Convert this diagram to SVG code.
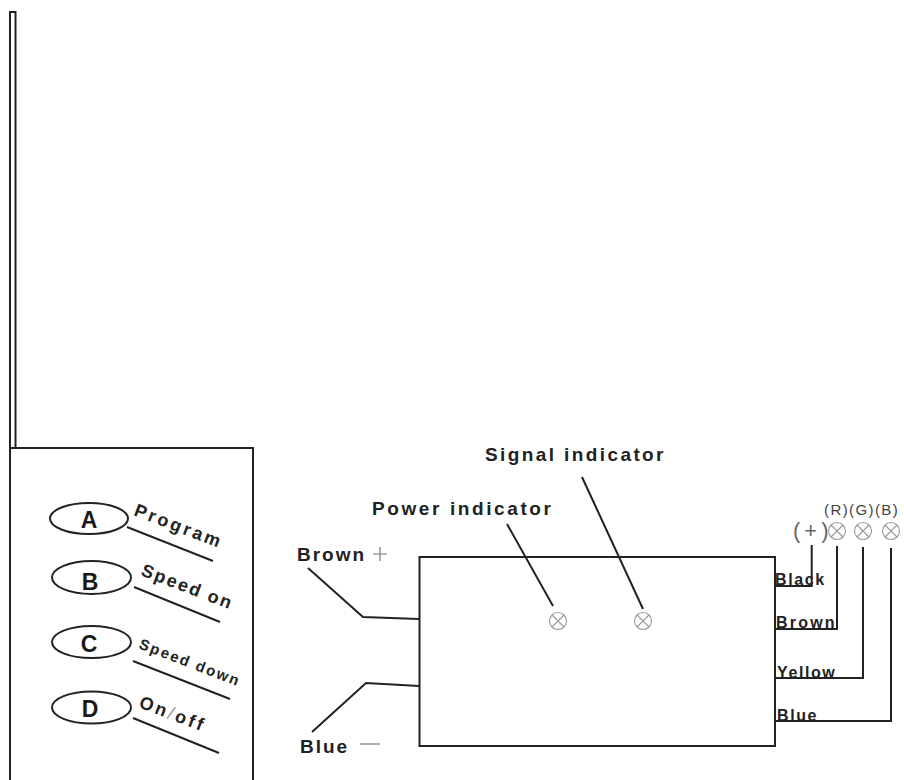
<svg xmlns="http://www.w3.org/2000/svg" width="904" height="780" viewBox="0 0 904 780">
<style>
.l{fill:none;stroke:#222;stroke-width:2}
.t{font-family:"Liberation Sans",Arial,sans-serif;font-weight:bold;fill:#222;font-size:19px;letter-spacing:2.500px}
.r{font-family:"Liberation Sans",Arial,sans-serif;font-weight:bold;fill:#222;font-size:16px;letter-spacing:1.600px}
.k{font-family:"Liberation Sans",Arial,sans-serif;font-weight:bold;fill:#1a1a1a;font-size:23px;text-anchor:middle}
.n{font-family:"Liberation Sans",Arial,sans-serif;fill:#444;font-size:15px;letter-spacing:1.400px}
.g{fill:none;stroke:#999;stroke-width:1.100}
.d{fill:none;stroke:#777;stroke-width:1.200}
</style>
<defs>
<g id="lamp"><circle r="8.500" class="g"/><path class="g" d="M-6-6L6 6M-6 6L6-6"/></g>
</defs>
<rect width="904" height="780" fill="#fff"/>
<g id="antenna"><path class="l" stroke-width="2.500" d="M10 449V12H15.500V449"/></g>
<g id="remote">
<path class="l" d="M10 780V448H253V780"/>
<g id="button-a"><ellipse class="l" cx="89" cy="518.500" rx="39" ry="15.500"/><text class="k" x="89" y="528">A</text>
<text class="t" style="font-size:18px;letter-spacing:2.800px" transform="translate(133 515) rotate(21)">Program</text></g>
<g id="button-b"><ellipse class="l" cx="91.500" cy="577.500" rx="39.500" ry="16.500"/><text class="k" x="90" y="590">B</text>
<text class="t" style="font-size:18px;letter-spacing:2px" transform="translate(140 575) rotate(21)">Speed on</text></g>
<g id="button-c"><ellipse class="l" cx="91.500" cy="642" rx="39.500" ry="16"/><text class="k" x="89" y="652">C</text>
<text class="t" style="font-size:15px;letter-spacing:1.900px" transform="translate(138 648) rotate(21)">Speed down</text></g>
<g id="button-d"><ellipse class="l" cx="91.500" cy="707.500" rx="39.500" ry="16"/><text class="k" x="90" y="717">D</text>
<text class="t" style="font-size:18px;letter-spacing:2.800px" transform="translate(138 707) rotate(21)">On<tspan style="font-weight:normal;fill:#999">/</tspan>off</text></g>
</g>
<g id="connectors">
<path class="l" d="M127 527L213 561M134 587L220 622M133 661L230 699M133 718L219 753"/>
<path class="l" d="M308 568L363 617L419 619M312 732L366 683L419 686"/>
<path class="l" d="M507 524L553 606M582 477L643 609"/>
<path class="l" d="M811.700 545V586H775M837 546V629H775M863 547V678H775M891 548V721H775"/>
</g>
<g id="controller"><rect class="l" x="419.500" y="557" width="355.500" height="189"/></g>
<g id="power-indicator"><text class="t" style="letter-spacing:2.600px" x="372" y="515">Power indicator</text><use href="#lamp" x="558" y="621"/></g>
<g id="signal-indicator"><text class="t" style="letter-spacing:2.400px" x="485" y="461">Signal indicator</text><use href="#lamp" x="643" y="621"/></g>
<g id="input-labels">
<text class="t" style="letter-spacing:2px" x="297" y="561">Brown</text><path class="d" d="M373 554H387M380 547V561"/>
<text class="t" style="letter-spacing:2px" x="300" y="753">Blue</text><path class="d" d="M360 744H380"/>
</g>
<g id="output-labels">
<text class="r" x="775" y="585">Black</text>
<text class="r" style="letter-spacing:2.200px" x="776" y="628">Brown</text>
<text class="r" x="777" y="678">Yellow</text>
<text class="r" x="777" y="721">Blue</text>
</g>
<g id="output-lamps">
<text class="n" style="font-size:22px;letter-spacing:4px;fill:#666" x="793" y="538">(+)</text>
<text class="n" x="824" y="515">(R)(G)(B)</text>
<use href="#lamp" x="837" y="531"/><use href="#lamp" x="863" y="531"/><use href="#lamp" x="891" y="531"/>
</g>
</svg>
